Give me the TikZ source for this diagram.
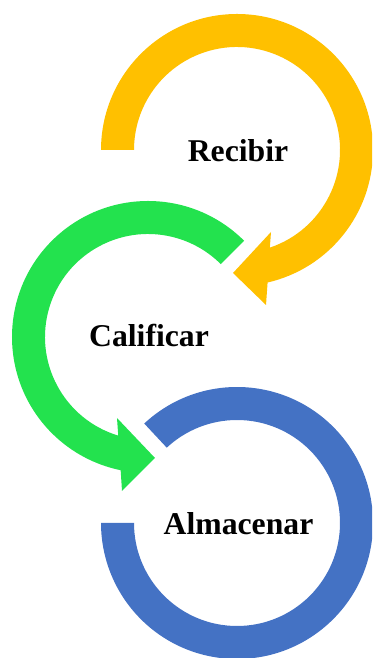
\documentclass[tikz,border=0pt]{standalone}
\usepackage{fontspec}
\setmainfont{Liberation Serif}
\definecolor{cgold}{RGB}{255,192,0}
\definecolor{cgreen}{RGB}{35,226,78}
\definecolor{cblue}{RGB}{68,114,196}
\begin{document}
\begin{tikzpicture}[x=1pt,y=1pt,
  lbl/.style={font=\fontsize{31.7}{38}\selectfont\bfseries, text=black, anchor=base, inner sep=0pt}]
\useasboundingbox (0,0) rectangle (372,658);
\clip (0,0) rectangle (372,658);
\coordinate (Y) at (237,508);
\coordinate (G) at (148,321);
\coordinate (B) at (237,135);
% yellow arrow
\begin{scope}[shift={(Y)}]
\fill[cgold] (180:136pt) arc[start angle=180, end angle=-77, radius=136pt]
  -- (29,-155) -- (-4,-123) -- (34,-82)
  -- (-71.4:103pt) arc[start angle=-71.4, end angle=180, radius=103pt] -- cycle;
\end{scope}
% green arrow
\begin{scope}[shift={(G)}]
\fill[cgreen] (45:136pt) arc[start angle=45, end angle=258.4, radius=136pt]
  -- (-26,-154) -- (7,-121) -- (-31,-81)
  -- (253.2:103pt) arc[start angle=253.2, end angle=45, radius=103pt] -- cycle;
\end{scope}
% blue ring
\begin{scope}[shift={(B)}]
\fill[cblue] (133:136pt) arc[start angle=133, end angle=-180, radius=136pt]
  -- (-180:103pt) arc[start angle=-180, end angle=133, radius=103pt] -- cycle;
\end{scope}
\node[lbl] (recibir) at (238,496) {Recibir};
\node[lbl] (calificar) at (149,311) {Calificar};
\node[lbl] (almacenar) at (238.5,123) {Almacenar};
\end{tikzpicture}
\end{document}
